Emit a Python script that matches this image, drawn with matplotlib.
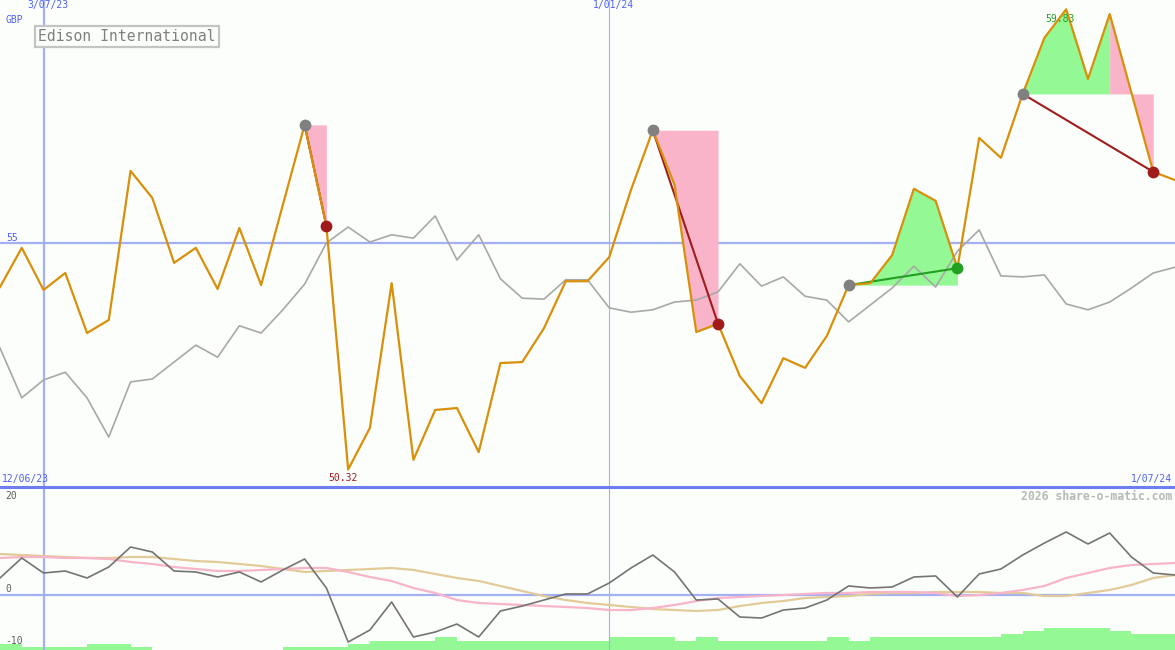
import matplotlib
matplotlib.use('Agg')
import matplotlib.pyplot as plt
from matplotlib.lines import Line2D
import numpy as np

# weekly closes, Edison International (GBP)
price = [54.09, 54.90, 54.03, 54.38, 53.14, 53.41, 56.49, 55.93, 54.59, 54.90,
         54.05, 55.31, 54.13, 55.79, 57.44, 55.35, 50.32, 51.18, 54.17, 50.52,
         51.55, 51.59, 50.68, 52.52, 52.54, 53.24, 54.21, 54.21, 54.71, 56.10,
         57.33, 56.20, 53.16, 53.33, 52.25, 51.69, 52.62, 52.42, 53.08, 54.13,
         54.17, 54.75, 56.12, 55.87, 54.48, 57.17, 56.76, 58.08, 59.24, 59.83,
         58.39, 59.73, 58.10, 56.47, 56.30]

# comparison index, rescaled to the price axis
index_line = [52.83, 51.80, 52.17, 52.33, 51.80, 50.99, 52.13, 52.19, 52.54, 52.89,
              52.64, 53.29, 53.14, 53.62, 54.15, 55.00, 55.33, 55.02, 55.17, 55.10,
              55.56, 54.65, 55.17, 54.26, 53.86, 53.84, 54.24, 54.24, 53.66, 53.57,
              53.62, 53.78, 53.82, 53.99, 54.57, 54.11, 54.30, 53.90, 53.82, 53.37,
              53.72, 54.07, 54.52, 54.09, 54.83, 55.27, 54.32, 54.30, 54.34, 53.74,
              53.62, 53.78, 54.07, 54.38, 54.50]

momentum = [3.66, 7.96, 4.73, 5.16, 3.66, 6.02, 10.32, 9.25, 5.16, 4.95,
            3.87, 4.95, 2.80, 5.38, 7.74, 1.51, -10.11, -7.53, -1.51, -9.03,
            -7.96, -6.24, -9.03, -3.44, -2.37, -1.08, 0.22, 0.22, 2.58, 5.81,
            8.60, 4.95, -1.08, -0.86, -4.73, -4.95, -3.23, -2.80, -1.08, 1.94,
            1.51, 1.72, 3.87, 4.09, -0.43, 4.52, 5.59, 8.60, 11.18, 13.55,
            10.97, 13.33, 8.17, 4.73, 4.30]

avg_fast = [7.96, 8.17, 8.17, 7.96, 7.96, 7.74, 7.10, 6.67, 6.02, 5.59,
            5.16, 5.16, 5.38, 5.59, 5.81, 5.81, 4.95, 3.87, 3.01, 1.51,
            0.43, -1.08, -1.72, -1.94, -2.15, -2.37, -2.58, -2.80, -3.23, -3.23,
            -2.80, -2.15, -1.29, -0.65, -0.43, -0.22, 0.00, 0.22, 0.43, 0.43,
            0.65, 0.65, 0.65, 0.43, -0.22, 0.00, 0.43, 1.08, 1.94, 3.66,
            4.73, 5.81, 6.45, 6.67, 6.88]

avg_slow = [8.82, 8.60, 8.39, 8.17, 7.96, 7.96, 8.17, 8.17, 7.74, 7.31,
            7.10, 6.67, 6.24, 5.59, 4.95, 5.16, 5.38, 5.59, 5.81, 5.38,
            4.52, 3.66, 3.01, 1.94, 0.86, -0.22, -1.08, -1.72, -2.15, -2.58,
            -3.01, -3.23, -3.44, -3.23, -2.37, -1.72, -1.29, -0.65, -0.43, -0.22,
            0.22, 0.43, 0.43, 0.65, 0.65, 0.65, 0.43, 0.43, -0.22, -0.22,
            0.43, 1.08, 2.15, 3.66, 4.30]

volume = [2, 1, 1, 1, 2, 2, 1, 0, 0, 0,
          0, 0, 0, 1, 1, 1, 2, 3, 3, 3,
          4, 3, 3, 3, 3, 3, 3, 3, 4, 4,
          4, 3, 4, 3, 3, 3, 3, 3, 4, 3,
          4, 4, 4, 4, 4, 4, 5, 6, 7, 7,
          7, 6, 5, 5]

trade_entry = [14, 30, 39, 47]
trade_exit = [15, 33, 44, 53]
trade_turn = [14, 30, 44, 51]   # fill turns pink from here

date_marks = [2, 28]
date_labels = ['3/07/23', '1/01/24']
start_label, end_label = '12/06/23', '1/07/24'

BG = '#fbfefb'
BLUE = '#a4b0f4'
ORANGE = '#d8900a'
PINK = '#f9b4c9'
GREEN = '#94f894'
DKRED = '#a01c1c'
DKGREEN = '#22a022'
MONO = 'DejaVu Sans Mono'

W, H = 1175, 650
split = 487
fig = plt.figure(figsize=(W / 100, H / 100), dpi=100, facecolor=BG)
ax = fig.add_axes([0, (H - split) / H, 1, split / H], facecolor=BG)
ax2 = fig.add_axes([0, 0, 1, (H - split) / H], facecolor=BG)
for a in (ax, ax2):
    a.set_axis_off()
    a.set_xlim(0, len(price) - 1)

x = np.arange(len(price))
p = np.array(price)

ax.set_ylim(55 - 244 / 48.4, 55 + 243 / 48.4)
ax.axhline(55, color=BLUE, lw=1.6, zorder=0)
for i, d in zip(date_marks, date_labels):
    lw = 1.6 if i == date_marks[0] else 0.8
    ax.axvline(i, color=BLUE, lw=lw, zorder=0)
    ax2.axvline(i, color=BLUE, lw=lw, zorder=0)
    ax.text(i + 0.2, 0.999, d, transform=ax.get_xaxis_transform(), ha='center', va='top',
            color='#5060f0', fontsize=7, family=MONO)

# trades
for e, xo, t in zip(trade_entry, trade_exit, trade_turn):
    lvl = p[e]
    if t > e:
        ax.fill_between(x[e:t + 1], p[e:t + 1], lvl, color=GREEN, lw=0, zorder=1)
    if xo > t:
        ax.fill_between(x[t:xo + 1], p[t:xo + 1], lvl, color=PINK, lw=0, zorder=1)

ax.plot(x, index_line, color='#a8a8a8', lw=1.2, zorder=2)
ax.plot(x, price, color=ORANGE, lw=1.6, zorder=3)

for e, xo in zip(trade_entry, trade_exit):
    c = DKGREEN if p[xo] > p[e] else DKRED
    ax.plot([e, xo], [p[e], p[xo]], color=c, lw=1.5, zorder=2.5)
    ax.plot(e, p[e], 'o', ms=8.5, color='#808080', mec='none', zorder=5)
    ax.plot(xo, p[xo], 'o', ms=8.5, color=c, mec='none', zorder=5)

lo, hi = int(np.argmin(p)), int(np.argmax(p))
ax.annotate(f'{p[lo]:.2f}', (lo, p[lo]), xytext=(-5, -3), textcoords='offset pixels',
            ha='center', va='top', color=DKRED, fontsize=7, family=MONO)
ax.annotate(f'{p[hi]:.2f}', (hi, p[hi]), xytext=(-6, -5), textcoords='offset pixels',
            ha='center', va='top', color=DKGREEN, fontsize=7, family=MONO)

ax.text(0.005, 55, '55', transform=ax.get_yaxis_transform(), ha='left', va='bottom',
        color='#5060f0', fontsize=7, family=MONO)
fig.text(5 / W, 1 - 20 / H, 'GBP', ha='left', va='center', color='#5060f0', fontsize=7, family=MONO)
fig.text(38 / W, 1 - 36.5 / H, 'Edison International', ha='left', va='center', color='#808080',
         fontsize=10.6, family=MONO,
         bbox=dict(boxstyle='square,pad=0.22', fc=BG, ec='#c4c4c4', lw=1.6))

# separator and range labels
fig.add_artist(Line2D([0, 1], [(H - split) / H] * 2, color='#6e7ef0', lw=2.2))
fig.text(2 / W, 1 - 479 / H, start_label, ha='left', va='center', color='#5060f0', fontsize=7, family=MONO)
fig.text(1172 / W, 1 - 479 / H, end_label, ha='right', va='center', color='#5060f0', fontsize=7, family=MONO)
fig.text(1172 / W, 1 - 496 / H, '2026 share-o-matic.com', ha='right', va='center', color='#b8b8b8',
         fontsize=8.3, family=MONO, weight='bold')

# lower panel
ax2.set_ylim(-55 / 4.65, 108 / 4.65)
ax2.axhline(0, color=BLUE, lw=1.6, zorder=0)
axv = ax2.twinx()
axv.set_axis_off()
axv.set_ylim(0, 163 / 3.15)
axv.bar(np.arange(len(volume)), volume, width=1.0, align='edge', color=GREEN, lw=0, zorder=1)
ax2.set_zorder(axv.get_zorder() + 1)
ax2.patch.set_visible(False)
ax2.plot(x, avg_slow, color='#e2cb98', lw=1.6, zorder=2)
ax2.plot(x, avg_fast, color='#f8b4c8', lw=1.6, zorder=2)
ax2.plot(x, momentum, color='#747474', lw=1.2, zorder=3)
for v, dy in ((20, 6), (0, 6), (-10, 0)):
    ax2.annotate(str(v), (0, v), xytext=(5, dy), textcoords='offset pixels', ha='left', va='center',
                 color='#606060', fontsize=7, family=MONO, annotation_clip=False)

fig.savefig('out.png', dpi=100, facecolor=BG)
